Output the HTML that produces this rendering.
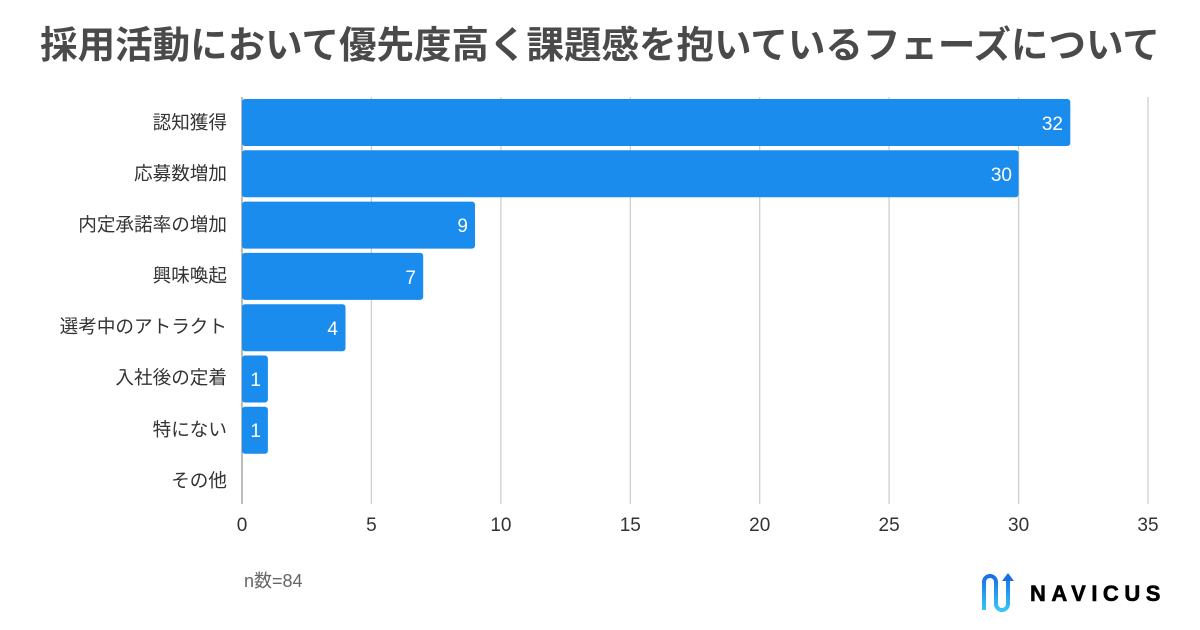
<!DOCTYPE html>
<html><head><meta charset="utf-8"><style>
body{margin:0;width:1200px;height:630px;background:#fff;overflow:hidden}
svg{display:block}
text{font-family:"Liberation Sans","Noto Sans CJK JP",sans-serif}
</style></head><body>
<svg width="1200" height="630" viewBox="0 0 1200 630">
<text x="600" y="58" text-anchor="middle" font-size="37.5" font-weight="bold" fill="#4a4a4a" font-family="'Noto Sans CJK JP',sans-serif">採用活動において優先度高く課題感を抱いているフェーズについて</text>
<g stroke="#cfcfcf" stroke-width="1.3">
<line x1="371.4" y1="97" x2="371.4" y2="504"/>
<line x1="500.9" y1="97" x2="500.9" y2="504"/>
<line x1="630.3" y1="97" x2="630.3" y2="504"/>
<line x1="759.7" y1="97" x2="759.7" y2="504"/>
<line x1="889.1" y1="97" x2="889.1" y2="504"/>
<line x1="1018.6" y1="97" x2="1018.6" y2="504"/>
<line x1="1148" y1="97" x2="1148" y2="504"/>
</g>
<line x1="242" y1="97" x2="242" y2="504" stroke="#999" stroke-width="1.3"/>
<g fill="#1a8cee">
<rect x="242" y="99" width="828.3" height="47" rx="3"/>
<rect x="242" y="150.3" width="776.6" height="47" rx="3"/>
<rect x="242" y="201.6" width="233" height="47" rx="3"/>
<rect x="242" y="252.9" width="181.2" height="47" rx="3"/>
<rect x="242" y="304.2" width="103.5" height="47" rx="3"/>
<rect x="242" y="355.5" width="25.9" height="47" rx="3"/>
<rect x="242" y="406.8" width="25.9" height="47" rx="3"/>
</g>
<g fill="#fff" font-size="19" text-anchor="end" font-family="'Noto Sans CJK JP',sans-serif">
<text x="1063" y="130">32</text>
<text x="1012" y="181">30</text>
<text x="468" y="232">9</text>
<text x="416" y="284">7</text>
<text x="338" y="335">4</text>
<text x="261" y="386">1</text>
<text x="261" y="437">1</text>
</g>
<g fill="#333" font-size="18.6" text-anchor="end" font-family="'Noto Sans CJK JP',sans-serif">
<text x="227" y="129">認知獲得</text>
<text x="227" y="180">応募数増加</text>
<text x="227" y="231">内定承諾率の増加</text>
<text x="227" y="282">興味喚起</text>
<text x="227" y="333">選考中のアトラクト</text>
<text x="227" y="384">入社後の定着</text>
<text x="227" y="436">特にない</text>
<text x="227" y="487">その他</text>
</g>
<g fill="#333" font-size="19" text-anchor="middle" font-family="'Noto Sans CJK JP',sans-serif">
<text x="242" y="531">0</text><text x="371.4" y="531">5</text><text x="500.9" y="531">10</text><text x="630.3" y="531">15</text><text x="759.7" y="531">20</text><text x="889.1" y="531">25</text><text x="1018.6" y="531">30</text><text x="1148" y="531">35</text>
</g>
<text x="244" y="587" font-size="18" fill="#666" font-family="'Noto Sans CJK JP',sans-serif">n数=84</text>
<defs><linearGradient id="g" x1="0" y1="0" x2="0" y2="1"><stop offset="0" stop-color="#1a6fe8"/><stop offset="1" stop-color="#36c6f4"/></linearGradient></defs>
<path d="M984 610 V582 a6 6 0 0 1 12 0 V604 a6 6 0 0 0 12 0 V580" fill="none" stroke="url(#g)" stroke-width="4"/>
<path d="M1002 581 L1008 573 L1014 581 Z" fill="#1a6fe8"/>
<text x="1030" y="601" font-size="22" font-weight="900" fill="#000" letter-spacing="5.5" stroke="#000" stroke-width="0.6">NAVICUS</text>
</svg>
</body></html>
